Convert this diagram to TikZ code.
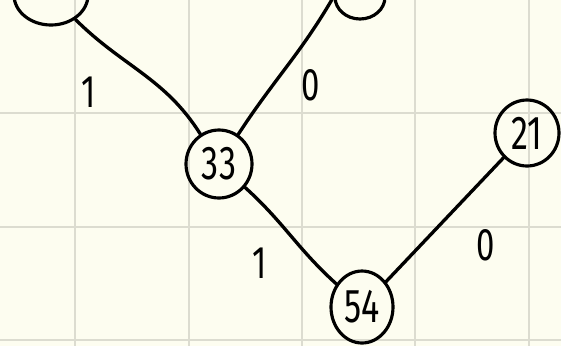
\documentclass[tikz,border=0pt]{standalone}
\usepackage{fontspec}
\setmainfont{Fira Sans}
\usepackage{xcolor}
\usetikzlibrary{calc, shapes.geometric, positioning}

\definecolor{paper}{HTML}{FDFDF0}
\definecolor{gridline}{HTML}{DCDCD0}

% chữ số hẹp, cao như viết tay
\newcommand{\narrow}[1]{\scalebox{0.72}[1]{#1}}

\begin{document}
\begin{tikzpicture}[x=0.02cm, y=-0.02cm,
    knot/.style={draw, ellipse, line width=1.8pt, inner sep=0pt,
        font=\fontsize{27}{27}\selectfont},
    edge/.style={line width=1.9pt, line cap=round},
    bit/.style={font=\fontsize{26}{26}\selectfont}]

    % =================================================================
    % NỀN GIẤY VÀ LƯỚI
    % =================================================================
    \useasboundingbox (0,0) rectangle (561,346);
    \clip (0,0) rectangle (561,346);
    \fill[paper] (0,0) rectangle (561,346);
    \foreach \x in {75, 189, 302, 415, 529}
        \draw[gridline, line width=1pt] (\x,0) -- (\x,346);
    \foreach \y in {113, 227, 340}
        \draw[gridline, line width=1pt] (0,\y) -- (561,\y);

    % =================================================================
    % CÁC NÚT
    % =================================================================
    \node[knot, minimum width=1.48cm, minimum height=1.2cm] (tl) at (51,-5) {};
    \node[knot, minimum width=1.0cm, minimum height=0.88cm] (tm) at (360,-3) {};
    \node[knot, minimum width=1.32cm, minimum height=1.36cm] (n33) at (219,164) {\narrow{33}};
    \node[knot, minimum width=1.24cm, minimum height=1.44cm] (n54) at (362,307) {\narrow{54}};
    \node[knot, minimum width=1.28cm, minimum height=1.32cm] (n21) at (527,133) {\narrow{21}};

    % Các cạnh nối
    \draw[edge] (tl) to[out=-45, in=122] (n33);
    \draw[edge] (tm.west) to[out=-120, in=57] (n33);
    \draw[edge] (n33) to[out=-42, in=138] (n54);
    \draw[edge] (n54) -- (n21);

    % Nhãn 0 / 1
    \node[bit] (b1) at (89,92) {\narrow{1}};
    \node[bit] (b2) at (311,85) {\narrow{0}};
    \node[bit] (b3) at (260,263) {\narrow{1}};
    \node[bit] (b4) at (486,245) {\narrow{0}};

\end{tikzpicture}
\end{document}
